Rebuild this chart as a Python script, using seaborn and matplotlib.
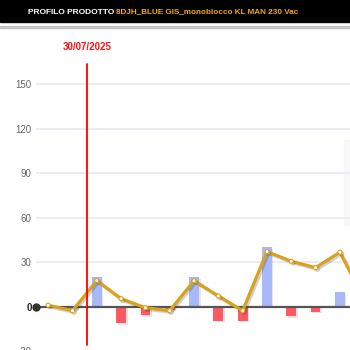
import numpy as np
import pandas as pd
import matplotlib
matplotlib.use("Agg")
import matplotlib.pyplot as plt
import matplotlib.patheffects as pe
from matplotlib.patches import Rectangle
import seaborn as sns

# Dati del profilo prodotto
periodi = list(range(14))
giacenza = [1, -2.7, 17.6, 5.4, -0.7, -2.7, 17.5, 7.2, -2.7, 37.1, 30.6, 26.3, 36.7, 5]
variazioni = [0, -1.5, 20, -11, -5.6, -2, 20, -9.5, -9.5, 40, -6.3, -3.4, 10, 0]
tipo_mov = ["nessuno", "rettifica", "carico", "scarico", "scarico", "scarico", "carico",
            "scarico", "scarico", "carico", "scarico", "scarico", "carico", "nessuno"]
tick_y = [-30, 0, 30, 60, 90, 120, 150]
data_evento = "30/07/2025"
pos_evento = 1.6
titolo = "PROFILO PRODOTTO "
prodotto = "8DJH_BLUE GIS_monoblocco KL MAN 230 Vac"

colori = {"carico": "#a9b9f7", "scarico": "#ff5a63", "rettifica": "#4caf50", "nessuno": "#ffffff"}
oro = "#d9a21c"

sns.set_theme(style="white")
plt.rcParams["font.family"] = ["Liberation Sans", "DejaVu Sans"]

fig = plt.figure(figsize=(3.5, 3.5), dpi=100)
fig.patch.set_facecolor("white")

# intestazione
fig.patches.append(Rectangle((0, 1 - 22 / 350), 1, 22 / 350, transform=fig.transFigure,
                             color="black", zorder=0))
fig.patches.append(Rectangle((0, 1 - 28 / 350), 1, 2 / 350, transform=fig.transFigure,
                             color="#c4c4c4", zorder=0))
fig.text(28 / 350, 1 - 12 / 350, titolo, color="white", fontsize=6, fontweight="bold",
         va="center", ha="left")
fig.text(116 / 350, 1 - 12 / 350, prodotto, color="#f0a818", fontsize=5.9, fontweight="bold",
         va="center", ha="left")

# area del grafico
ax = fig.add_axes([36 / 350, -5 / 350, (350 - 36) / 350, 325 / 350])
ax.set_facecolor("white")

# bordo sfumato del riquadro informativo a destra
ax.add_patch(Rectangle((344 / 350, 1 - 225 / 350), 6 / 350, 85 / 350,
                       transform=fig.transFigure, color="#f2f2f2", alpha=0.5, zorder=0.5,
                       clip_on=False))

df = pd.DataFrame({"periodo": periodi, "variazione": variazioni, "tipo": tipo_mov,
                   "giacenza": giacenza})
barre = df[df["variazione"] != 0]
sns.barplot(data=barre, x="periodo", y="variazione", hue="tipo", palette=colori,
            native_scale=True, width=0.4, dodge=False, legend=False, ax=ax,
            saturation=1, linewidth=0, edgecolor="none", zorder=3)
for p in ax.patches:
    if p.get_zorder() == 3:
        p.set_path_effects([pe.SimplePatchShadow(offset=(1.2, -1.2), alpha=0.12), pe.Normal()])

sns.lineplot(data=df, x="periodo", y="giacenza", color=oro, lw=2.3, marker="o",
             markersize=3, markerfacecolor="white", markeredgecolor=oro,
             markeredgewidth=0.8, ax=ax, zorder=5,
             path_effects=[pe.SimpleLineShadow(offset=(1.2, -1.2), alpha=0.2), pe.Normal()])

# griglia orizzontale
for v in tick_y:
    if v != 0:
        ax.axhline(v, color="#e9ebf2", lw=1.3, zorder=1)

# asse zero
for s in ["top", "right", "left"]:
    ax.spines[s].set_visible(False)
ax.spines["bottom"].set_position(("data", 0))
ax.spines["bottom"].set_color("#555555")
ax.spines["bottom"].set_linewidth(1.6)
ax.spines["bottom"].set_zorder(4)
ax.set_xticks(np.arange(-0.5, 14, 1))
ax.tick_params(axis="x", direction="out", length=2.5, width=0.8, color="#888888",
               labelbottom=False)

ax.set_yticks(tick_y)
ax.set_yticklabels([str(v) for v in tick_y])
ax.tick_params(axis="y", length=0, pad=3, labelsize=7, labelcolor="#666666")
for lab in ax.get_yticklabels():
    if lab.get_text() == "0":
        lab.set_fontweight("bold")
        lab.set_color("#222222")
ax.set_xlabel("")
ax.set_ylabel("")

ax.set_xlim(-0.5, (350 - 48.3) / 24.3)
ax.set_ylim((306.7 - 355) / 1.4847, (306.7 - 30) / 1.4847)

ax.plot([-0.5], [0], "o", color="#333333", markersize=5, clip_on=False, zorder=6)

# evento
ax.plot([pos_evento, pos_evento], [-25.8, 163.7], color="#ff0000", lw=1.3, zorder=7)
ax.text(pos_evento, 174.6, data_evento, color="#ff1010", fontsize=7, fontweight="bold",
        ha="center", va="center")

fig.savefig("out.png", dpi=100)
